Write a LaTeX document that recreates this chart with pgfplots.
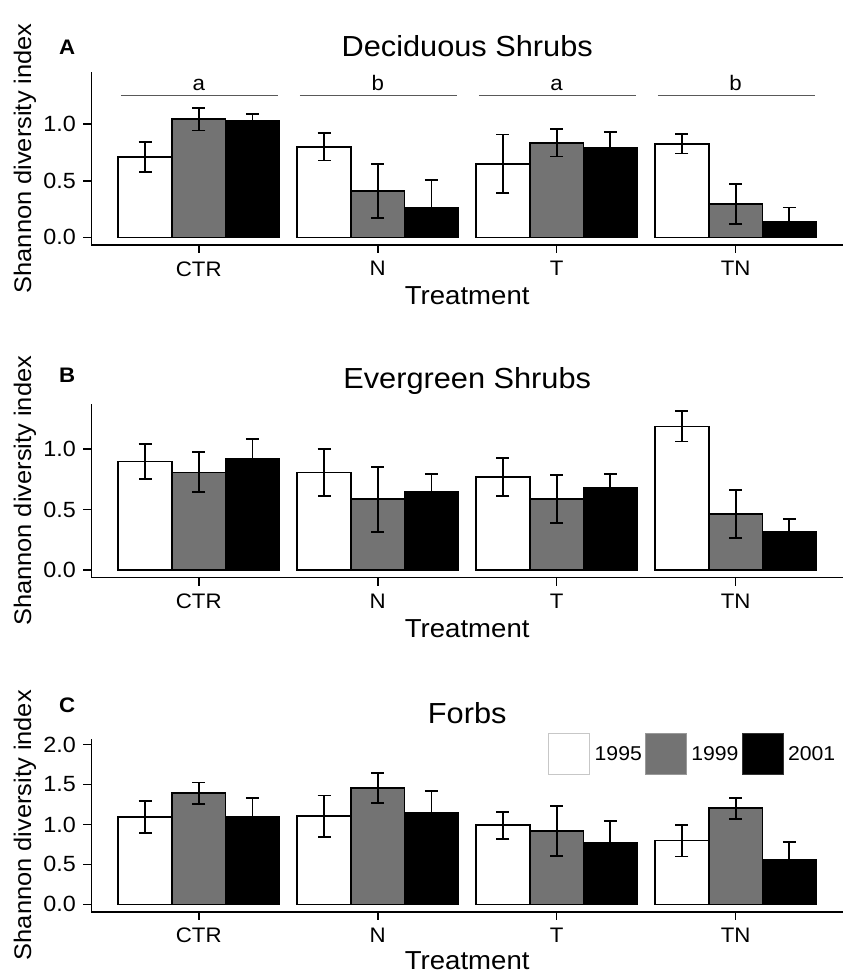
\documentclass[border=0pt]{standalone}
\usepackage{fontspec}
\setmainfont{Liberation Sans}[FakeStretch=1.06]
\usepackage{pgfplots}
\usepackage{pgfplotstable}
\pgfplotsset{compat=1.18}
\definecolor{grayfill}{HTML}{737373}

% Panel A: Deciduous Shrubs
\pgfplotstableread{
x y e
0.7 0.71 0.13
1.7 0.80 0.12
2.7 0.65 0.26
3.7 0.826 0.085
}\Aone
\pgfplotstableread{
x y e
1.0 1.044 0.10
2.0 0.41 0.24
3.0 0.835 0.12
4.0 0.295 0.175
}\Atwo
\pgfplotstableread{
x y e
1.3 1.03 0.06
2.3 0.257 0.25
3.3 0.79 0.14
4.3 0.133 0.13
}\Athree
% Panel B: Evergreen Shrubs
\pgfplotstableread{
x y e
0.7 0.898 0.147
1.7 0.807 0.194
2.7 0.771 0.156
3.7 1.19 0.125
}\Bone
\pgfplotstableread{
x y e
1.0 0.809 0.166
2.0 0.586 0.27
3.0 0.586 0.198
4.0 0.464 0.198
}\Btwo
\pgfplotstableread{
x y e
1.3 0.92 0.163
2.3 0.646 0.147
3.3 0.682 0.116
4.3 0.315 0.108
}\Bthree
% Panel C: Forbs
\pgfplotstableread{
x y e
0.7 1.09 0.20
1.7 1.103 0.26
2.7 0.99 0.167
3.7 0.797 0.197
}\Cone
\pgfplotstableread{
x y e
1.0 1.392 0.134
2.0 1.455 0.19
3.0 0.922 0.313
4.0 1.203 0.132
}\Ctwo
\pgfplotstableread{
x y e
1.3 1.099 0.231
2.3 1.149 0.268
3.3 0.776 0.272
4.3 0.562 0.222
}\Cthree

\pgfplotsset{
  panel/.style={
    anchor=south west,
    scale only axis, width=751.6pt,
    xmin=0.4, xmax=4.6,
    axis x line*=bottom, axis y line*=left,
    x axis line style={-}, y axis line style={-},
    axis line style={line width=1.6pt, black},
    xtick={1,2,3,4}, xticklabels={CTR,N,T,TN},
    minor tick num=0,
    tick align=outside, major tick length=8pt,
    tick style={line width=1.6pt, black},
    xticklabel style={font=\fontsize{21}{24}\selectfont, yshift=-5pt},
    yticklabel style={font=\fontsize{22}{24}\selectfont, xshift=-4pt,
      /pgf/number format/.cd, fixed, fixed zerofill, precision=1, assume math mode=true},
    xlabel={Treatment},
    ylabel={Shannon diversity index},
    xlabel style={font=\fontsize{26}{30}\selectfont, at={(axis description cs:0.5,-0.346)}, anchor=base},
    ylabel style={font=\fontsize{24}{28}\selectfont, at={(axis description cs:-0.0883,0.5)}, anchor=center},
    title style={font=\fontsize{29}{32}\selectfont, at={(0.5,1)}, anchor=base, yshift=9pt},
    ybar, bar width=0.3, bar shift=0pt,
    error bars/y dir=both, error bars/y explicit,
    error bars/error bar style={line width=1.8pt, black},
    error bars/error mark options={rotate=90, line width=1.8pt, black, mark size=6.5pt},
  },
  bw/.style={fill=white, draw=black, line width=1.6pt},
  bg/.style={fill=grayfill, draw=black, line width=1.6pt},
  bk/.style={fill=black, draw=black, line width=1.6pt},
}

\begin{document}
\begin{tikzpicture}
\path[use as bounding box] (0,0) rectangle (843pt,974pt);

% ---------- Panel A ----------
\begin{axis}[panel, at={(91.4pt,729pt)}, height=173.3pt,
  ymin=-0.068, ymax=1.465, ytick={0,0.5,1},
  title={Deciduous Shrubs}]
\addplot[bw] table[x=x, y=y, y error=e] {\Aone};
\addplot[bk] table[x=x, y=y, y error=e] {\Athree};
\addplot[bg] table[x=x, y=y, y error=e] {\Atwo};
\addplot[sharp plot, black!65, line width=1pt, forget plot] coordinates {(0.565,1.253) (1.445,1.253)};
\addplot[sharp plot, black!65, line width=1pt, forget plot] coordinates {(1.565,1.253) (2.445,1.253)};
\addplot[sharp plot, black!65, line width=1pt, forget plot] coordinates {(2.565,1.253) (3.445,1.253)};
\addplot[sharp plot, black!65, line width=1pt, forget plot] coordinates {(3.565,1.253) (4.445,1.253)};
\node[anchor=base, font=\fontsize{21}{24}\selectfont] at (axis cs:1,1.295) {a};
\node[anchor=base, font=\fontsize{21}{24}\selectfont] at (axis cs:2,1.295) {b};
\node[anchor=base, font=\fontsize{21}{24}\selectfont] at (axis cs:3,1.295) {a};
\node[anchor=base, font=\fontsize{21}{24}\selectfont] at (axis cs:4,1.295) {b};
\end{axis}

% ---------- Panel B ----------
\begin{axis}[panel, at={(91.4pt,396.3pt)}, height=173.7pt,
  ymin=-0.064, ymax=1.375, ytick={0,0.5,1},
  title={Evergreen Shrubs}]
\addplot[bw] table[x=x, y=y, y error=e] {\Bone};
\addplot[bk] table[x=x, y=y, y error=e] {\Bthree};
\addplot[bg] table[x=x, y=y, y error=e] {\Btwo};
\end{axis}

% ---------- Panel C ----------
\begin{axis}[panel, at={(91.4pt,62.3pt)}, height=173.1pt,
  ymin=-0.092, ymax=2.075, ytick={0,0.5,1,1.5,2},
  title={Forbs},
  xlabel style={at={(axis description cs:0.5,-0.335)}},
  legend columns=3,
  legend style={draw=none, fill=none, at={(0.6075,1.0324)}, anchor=north west,
    inner sep=0pt, font=\fontsize{20}{24}\selectfont,
    nodes={inner xsep=3pt, inner ysep=0pt},
    /tikz/every odd column/.append style={column sep=1.5pt}},
  ]
\addplot[bw, legend image code/.code={\draw[fill=white, draw=black!22, line width=1pt] (0pt,-20.5pt) rectangle (41pt,20.5pt);}] table[x=x, y=y, y error=e] {\Cone};
\addlegendentry{1995}
\addplot[bg, legend image code/.code={\draw[fill=grayfill, draw=black!40, line width=1pt] (0pt,-20.5pt) rectangle (41pt,20.5pt);}] table[x=x, y=y, y error=e] {\Ctwo};
\addlegendentry{1999}
\addplot[bk, legend image code/.code={\draw[fill=black, draw=black!80, line width=1pt] (0pt,-20.5pt) rectangle (41pt,20.5pt);}] table[x=x, y=y, y error=e] {\Cthree};
\addlegendentry{2001}
\end{axis}

% panel letters
\node[anchor=base west, inner sep=0pt, font=\bfseries\fontsize{21}{24}\selectfont] at (59pt,919pt) {A};
\node[anchor=base west, inner sep=0pt, font=\bfseries\fontsize{21}{24}\selectfont] at (59pt,591pt) {B};
\node[anchor=base west, inner sep=0pt, font=\bfseries\fontsize{21}{24}\selectfont] at (59pt,261pt) {C};
\end{tikzpicture}
\end{document}
